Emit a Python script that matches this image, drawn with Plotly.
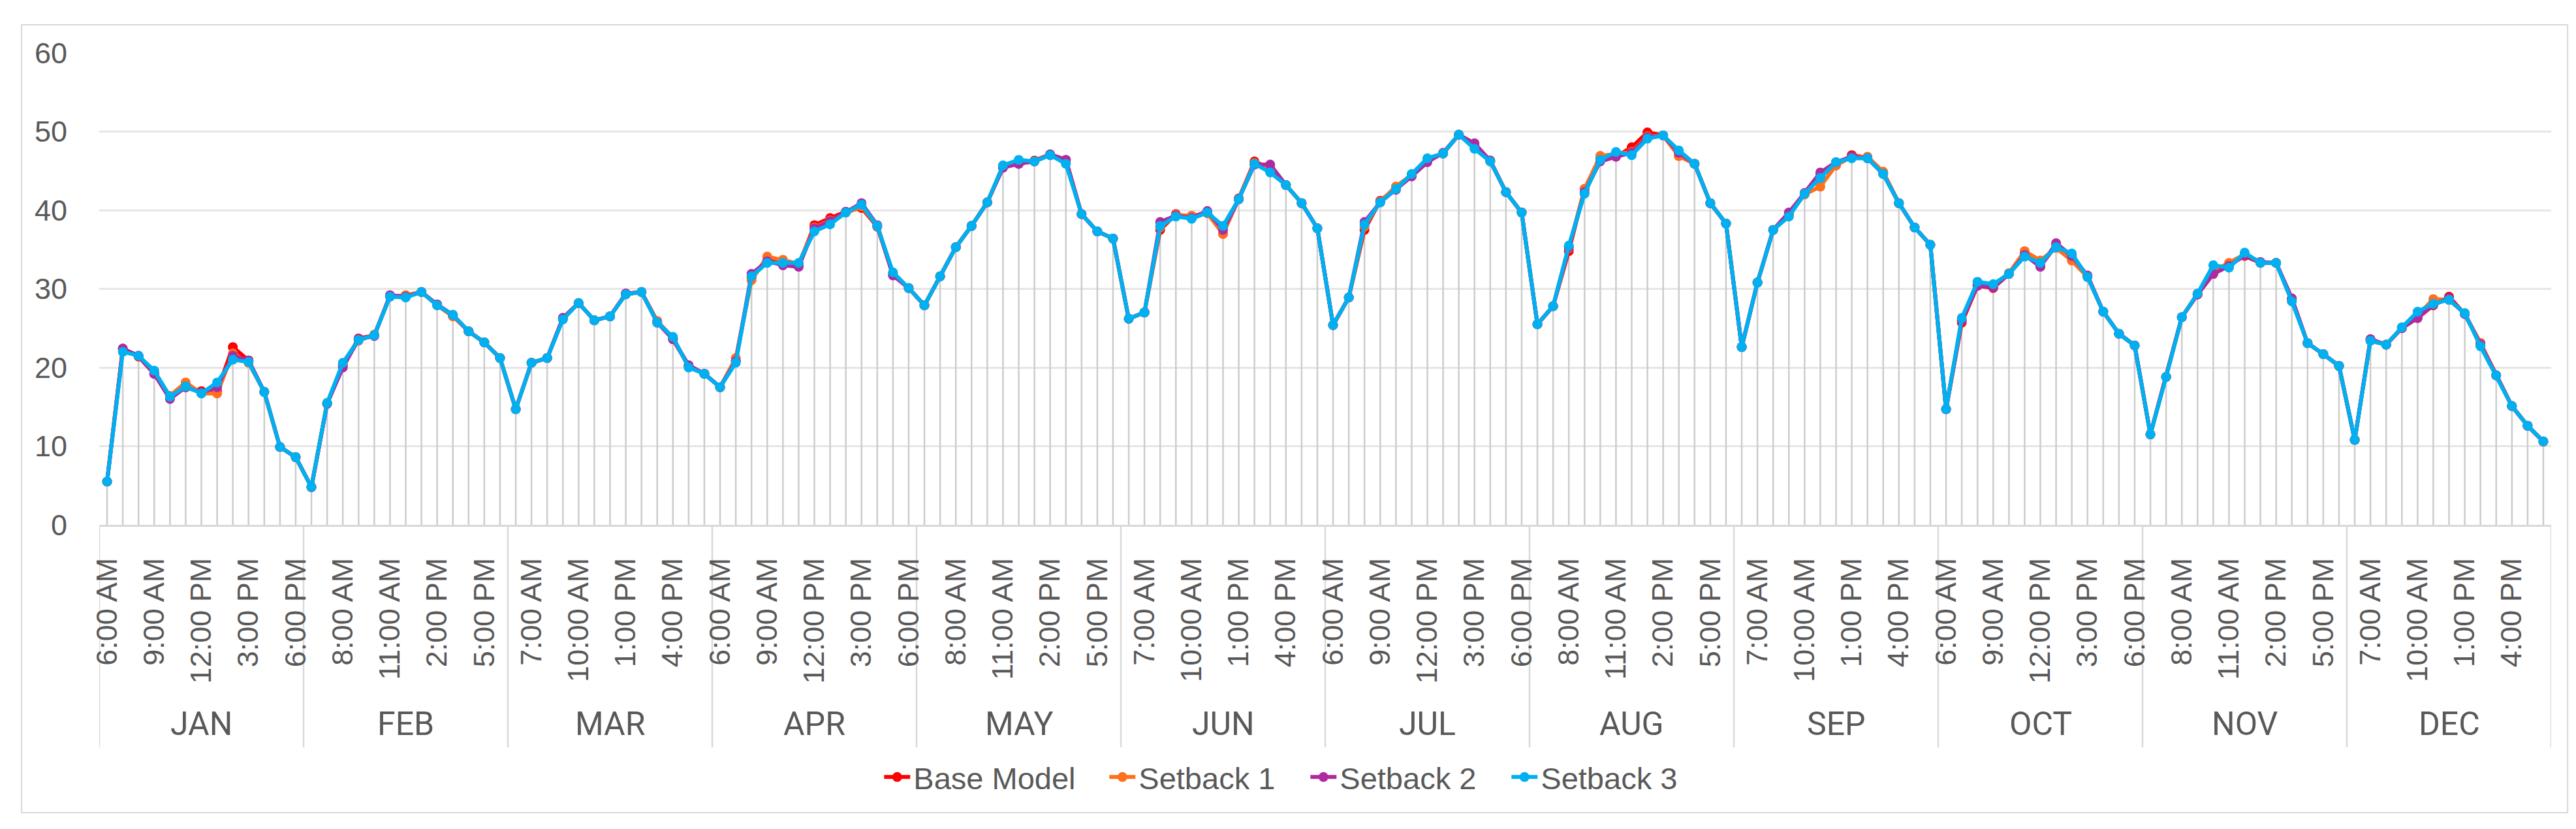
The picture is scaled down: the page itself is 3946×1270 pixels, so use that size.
import plotly.graph_objects as go

MONTHS = ["JAN", "FEB", "MAR", "APR", "MAY", "JUN", "JUL", "AUG", "SEP", "OCT", "NOV", "DEC"]
HOURS = ["6:00 AM", "7:00 AM", "8:00 AM", "9:00 AM", "10:00 AM", "11:00 AM", "12:00 PM",
         "1:00 PM", "2:00 PM", "3:00 PM", "4:00 PM", "5:00 PM", "6:00 PM"]

base_model = [
    5.5, 22.4, 21.4, 19.2, 16.2, 17.5, 17.0, 17.0, 22.6, 20.9, 16.9, 9.9, 8.6,
    4.8, 15.4, 20.2, 23.7, 24.1, 29.1, 29.0, 29.6, 28.0, 26.6, 24.6, 23.2, 21.2,
    14.7, 20.6, 21.2, 26.3, 28.2, 26.0, 26.5, 29.4, 29.6, 25.9, 23.6, 20.2, 19.2,
    17.5, 20.9, 31.4, 33.6, 33.4, 33.0, 38.1, 39.0, 39.8, 40.3, 37.9, 31.8, 30.1,
    27.9, 31.6, 35.3, 38.0, 41.0, 45.5, 45.9, 46.3, 47.1, 46.4, 39.5, 37.3, 36.4,
    26.2, 27.0, 37.5, 39.5, 39.0, 39.8, 37.0, 41.5, 46.2, 45.3, 43.2, 40.9, 37.7,
    25.4, 28.9, 37.5, 41.2, 42.8, 44.4, 46.3, 47.2, 49.6, 48.3, 46.3, 42.3, 39.7,
    25.5, 27.8, 34.8, 42.7, 46.6, 46.8, 48.0, 49.9, 49.5, 46.9, 45.9, 40.9, 38.3,
    22.6, 30.8, 37.5, 39.5, 42.1, 44.4, 45.7, 47.0, 46.7, 44.7, 40.9, 37.8, 35.6,
    14.7, 25.7, 30.4, 30.1, 31.9, 34.4, 32.9, 35.5, 34.0, 31.6, 27.1, 24.3, 22.8,
    11.5, 18.8, 26.4, 29.3, 31.9, 33.0, 34.2, 33.3, 33.3, 28.7, 23.1, 21.7, 20.2,
    10.8, 23.5, 22.9, 25.0, 26.3, 27.9, 29.0, 26.8, 23.1, 19.0, 15.1, 12.6, 10.6,
]

setback_1 = [
    5.5, 22.3, 21.5, 19.3, 16.4, 18.1, 16.7, 16.7, 21.8, 20.6, 16.9, 9.9, 8.6,
    4.8, 15.5, 20.4, 23.4, 24.2, 29.0, 29.2, 29.6, 27.9, 26.5, 24.6, 23.2, 21.2,
    14.7, 20.6, 21.2, 26.2, 28.2, 26.0, 26.5, 29.3, 29.6, 25.9, 23.8, 20.1, 19.2,
    17.5, 21.2, 31.1, 34.1, 33.7, 33.2, 37.8, 38.7, 39.7, 40.5, 38.0, 32.0, 30.1,
    27.9, 31.6, 35.3, 38.0, 41.0, 45.6, 46.0, 46.2, 47.0, 46.1, 39.5, 37.3, 36.4,
    26.2, 27.0, 37.8, 39.4, 39.3, 39.6, 37.0, 41.4, 46.0, 45.2, 43.2, 40.9, 37.7,
    25.4, 28.9, 37.9, 41.1, 43.0, 44.5, 46.4, 47.2, 49.6, 48.0, 46.2, 42.3, 39.7,
    25.5, 27.8, 35.2, 42.7, 46.9, 47.2, 47.4, 49.4, 49.5, 46.9, 45.9, 40.9, 38.3,
    22.6, 30.8, 37.5, 39.4, 42.0, 43.0, 45.7, 46.8, 46.8, 44.9, 40.9, 37.8, 35.6,
    14.7, 26.0, 30.6, 30.4, 32.0, 34.8, 33.6, 35.2, 33.6, 31.5, 27.1, 24.3, 22.8,
    11.5, 18.8, 26.4, 29.4, 32.3, 33.3, 34.4, 33.4, 33.3, 28.5, 23.1, 21.7, 20.2,
    10.8, 23.4, 22.9, 25.1, 26.6, 28.7, 28.6, 26.9, 23.0, 19.0, 15.1, 12.6, 10.6,
]

setback_2 = [
    5.5, 22.4, 21.5, 19.2, 16.0, 17.5, 16.8, 17.5, 21.5, 20.9, 16.9, 9.9, 8.6,
    4.8, 15.4, 20.0, 23.6, 24.0, 29.2, 29.0, 29.6, 28.0, 26.7, 24.6, 23.2, 21.2,
    14.7, 20.6, 21.2, 26.3, 28.2, 26.0, 26.5, 29.4, 29.6, 25.7, 23.6, 20.3, 19.2,
    17.5, 20.8, 31.9, 33.5, 33.0, 32.8, 37.7, 38.6, 39.8, 40.9, 38.1, 31.7, 30.1,
    27.9, 31.6, 35.3, 38.0, 41.0, 45.4, 45.9, 46.2, 47.1, 46.4, 39.5, 37.3, 36.4,
    26.2, 27.0, 38.5, 39.3, 39.0, 39.9, 37.5, 41.4, 45.8, 45.8, 43.2, 40.9, 37.7,
    25.4, 28.9, 38.5, 41.0, 42.6, 44.3, 46.1, 47.3, 49.6, 48.5, 46.3, 42.3, 39.7,
    25.5, 27.8, 35.3, 42.3, 46.2, 46.8, 47.3, 49.3, 49.5, 47.3, 45.9, 40.9, 38.3,
    22.6, 30.8, 37.5, 39.7, 42.2, 44.8, 46.1, 46.8, 46.6, 44.6, 40.9, 37.8, 35.6,
    14.7, 26.0, 30.4, 30.2, 31.9, 34.3, 32.8, 35.8, 34.2, 31.7, 27.1, 24.3, 22.8,
    11.5, 18.8, 26.4, 29.3, 31.9, 32.9, 34.3, 33.4, 33.3, 28.8, 23.1, 21.7, 20.2,
    10.8, 23.6, 22.9, 25.0, 26.3, 28.0, 28.8, 26.8, 22.9, 19.0, 15.1, 12.6, 10.6,
]

setback_3 = [
    5.5, 22.0, 21.5, 19.6, 16.3, 17.6, 16.7, 18.1, 21.0, 20.7, 16.9, 9.9, 8.6,
    4.8, 15.5, 20.6, 23.5, 24.1, 29.0, 28.9, 29.6, 27.9, 26.7, 24.6, 23.2, 21.2,
    14.7, 20.6, 21.2, 26.1, 28.2, 26.0, 26.5, 29.3, 29.6, 25.7, 23.9, 20.0, 19.2,
    17.5, 20.6, 31.6, 33.3, 33.3, 33.3, 37.3, 38.2, 39.7, 40.7, 38.0, 32.1, 30.1,
    27.9, 31.6, 35.3, 38.0, 41.0, 45.7, 46.4, 46.2, 47.0, 45.9, 39.5, 37.3, 36.4,
    26.2, 27.0, 38.0, 39.2, 38.9, 39.7, 38.0, 41.4, 45.9, 44.8, 43.2, 40.9, 37.7,
    25.4, 28.9, 38.2, 41.0, 42.7, 44.6, 46.6, 47.2, 49.6, 47.8, 46.2, 42.3, 39.7,
    25.5, 27.8, 35.5, 42.1, 46.4, 47.4, 47.0, 49.1, 49.5, 47.6, 45.9, 40.9, 38.3,
    22.6, 30.8, 37.5, 39.2, 42.1, 44.1, 46.1, 46.6, 46.6, 44.6, 40.9, 37.8, 35.6,
    14.7, 26.3, 30.9, 30.6, 31.9, 34.1, 33.3, 35.3, 34.5, 31.5, 27.1, 24.3, 22.8,
    11.5, 18.8, 26.4, 29.4, 33.0, 32.7, 34.6, 33.3, 33.3, 28.4, 23.1, 21.7, 20.2,
    10.8, 23.4, 22.9, 25.1, 27.1, 28.1, 28.6, 26.9, 22.7, 19.0, 15.1, 12.6, 10.6,
]

SERIES = [
    ("Base Model", base_model, "#FF0000", 290),
    ("Setback 1", setback_1, "#FF6F1E", 253),
    ("Setback 2", setback_2, "#AE2AA0", 253),
    ("Setback 3", setback_3, "#00B0F0", 253),
]

n_h = len(HOURS)
n = len(MONTHS) * n_h
xs = list(range(n))

TEXT = "#595959"
FONT = "Liberation Sans, Arial, sans-serif"
NARROW = "Liberation Sans Narrow, Arial Narrow, Roboto, sans-serif"

fig = go.Figure()

# drop lines
dx, dy = [], []
for i in xs:
    top = max(s[1][i] for s in SERIES)
    dx += [i, i, None]
    dy += [0, top, None]
fig.add_trace(go.Scatter(x=dx, y=dy, mode="lines", line=dict(color="#CCCCCC", width=2.5),
                         showlegend=False, hoverinfo="skip"))

for name, vals, col, lw in SERIES:
    fig.add_trace(go.Scatter(
        x=xs, y=vals, name=name, mode="lines+markers",
        line=dict(color=col, width=6),
        marker=dict(color=col, size=15, line=dict(width=0)),
        legendwidth=lw,
    ))

tickvals = list(range(0, n, 3))
ticktext = [HOURS[i % n_h] for i in tickvals]

shapes = []
for m in range(len(MONTHS) + 1):
    xb = m * n_h - 0.5
    shapes.append(dict(type="line", xref="x", yref="paper", x0=xb, x1=xb, y0=0, y1=-0.4716,
                       line=dict(color="#D9D9D9", width=2.5), layer="below"))
# chart border
shapes.append(dict(type="rect", xref="paper", yref="paper", x0=-0.0317, x1=1.0067,
                   y0=-0.610, y1=1.0595, line=dict(color="#D9D9D9", width=2)))

annotations = []
for m, mon in enumerate(MONTHS):
    annotations.append(dict(x=m * n_h + (n_h - 1) / 2, y=-0.4219, xref="x", yref="paper",
                            text=mon, showarrow=False, yanchor="middle", xanchor="center",
                            font=dict(family=NARROW, size=50, color=TEXT)))

fig.update_layout(
    width=3946, height=1270,
    margin=dict(l=144, r=46, t=73, b=474),
    paper_bgcolor="white", plot_bgcolor="white",
    font=dict(family=FONT, color=TEXT, size=45),
    xaxis=dict(range=[-0.5, n - 0.5], tickmode="array", tickvals=tickvals, ticktext=ticktext,
               tickangle=-90, showgrid=False, zeroline=False, showline=True,
               linecolor="#D9D9D9", linewidth=2.5, ticks="", ticklabelstandoff=30,
               tickfont=dict(family=FONT, size=45, color=TEXT)),
    yaxis=dict(range=[0, 60], tickvals=[0, 10, 20, 30, 40, 50, 60], showgrid=True,
               gridcolor="#E6E6E6", gridwidth=2.5, zeroline=False, showline=False,
               ticks="", ticklabelstandoff=48,
               tickfont=dict(family=FONT, size=45, color=TEXT)),
    legend=dict(orientation="h", x=0.4877, xanchor="center", y=-0.535, yanchor="middle",
                font=dict(family=FONT, size=47, color=TEXT), itemwidth=40,
                bgcolor="rgba(0,0,0,0)"),
    shapes=shapes, annotations=annotations,
    showlegend=True,
)

fig.write_html("out.html")
